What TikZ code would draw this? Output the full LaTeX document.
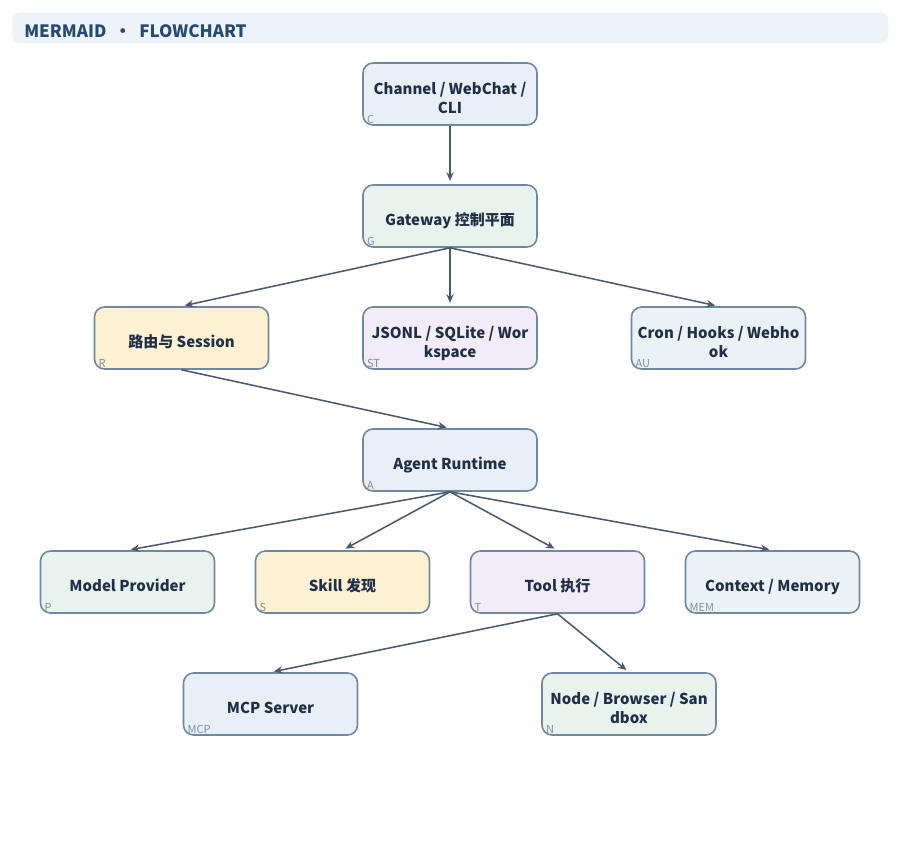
\documentclass[tikz,border=0pt]{standalone}
\usepackage{fontspec}
\setmainfont{Noto Sans CJK SC}
\usetikzlibrary{arrows.meta}
\definecolor{ink}{HTML}{1F2F46}
\definecolor{bordc}{HTML}{7088A0}
\definecolor{edgec}{HTML}{4A5A6E}
\definecolor{tagc}{HTML}{8090A0}
\definecolor{titlebg}{HTML}{EEF3F9}
\definecolor{titlec}{HTML}{234A72}
\definecolor{fblue}{HTML}{E8EFF7}
\definecolor{fgreen}{HTML}{E9F3EE}
\definecolor{fyellow}{HTML}{FDF1D4}
\definecolor{fviolet}{HTML}{F2ECF9}
\definecolor{fgray}{HTML}{EBF2F6}
\definecolor{fteal}{HTML}{E8F2EF}
\newcommand\bxtext[1]{\raisebox{-4.5pt}[\height][\depth]{\begin{tabular}{@{}c@{}}#1\end{tabular}}}
\tikzset{
  box/.style={draw=bordc, line width=1.2pt, rounded corners=7.5pt, minimum width=130.5pt, minimum height=46.5pt, align=center, text=ink, font=\fontsize{11.25pt}{14.25pt}\selectfont\bfseries, inner sep=2pt},
  tag/.style={text=tagc, font=\fontsize{8.25pt}{9pt}\selectfont, inner sep=0pt, anchor=south west},
  edge/.style={draw=edgec, line width=1.15pt, -{Stealth[length=6.5pt,width=5.5pt]}, shorten >=2.5pt}
}
\begin{document}
\begin{tikzpicture}[x=0.75pt,y=-0.75pt]
\useasboundingbox (0,0) rectangle (900,840);
\fill[white] (0,0) rectangle (900,840);
\node[draw=none, fill=titlebg, rounded corners=6pt, minimum width=657pt, minimum height=23.25pt, anchor=north west, inner sep=0pt] (title) at (12,12) {};
\node[anchor=west, text=titlec, font=\fontsize{12.75pt}{14pt}\selectfont\bfseries, inner sep=0pt] (titletext) at (24,31) {MERMAID\hspace{6pt}•\hspace{6pt}FLOWCHART};

\node[box, fill=fblue] (C) at (450,94) {\bxtext{Channel / WebChat /\\CLI}};
\node[box, fill=fgreen] (G) at (450,216) {\bxtext{Gateway 控制平面}};
\node[box, fill=fyellow] (R) at (181.5,338) {\bxtext{路由与 Session}};
\node[box, fill=fviolet] (ST) at (450,338) {\bxtext{JSONL / SQLite / Wor\\kspace}};
\node[box, fill=fgray] (AU) at (718.5,338) {\bxtext{Cron / Hooks / Webho\\ok}};
\node[box, fill=fblue] (A) at (450,460) {\bxtext{Agent Runtime}};
\node[box, fill=fteal] (P) at (127.5,582) {\bxtext{Model Provider}};
\node[box, fill=fyellow] (S) at (342.5,582) {\bxtext{Skill 发现}};
\node[box, fill=fviolet] (T) at (557.5,582) {\bxtext{Tool 执行}};
\node[box, fill=fgray] (MEM) at (772.5,582) {\bxtext{Context / Memory}};
\node[box, fill=fblue] (MCP) at (270.5,704) {\bxtext{MCP Server}};
\node[box, fill=fgreen] (N) at (629,704) {\bxtext{Node / Browser / San\\dbox}};

\foreach \n/\t in {C/C,G/G,R/R,ST/ST,AU/AU,A/A,P/P,S/S,T/T,MEM/MEM,MCP/MCP,N/N}
  \node[tag] (tag\n) at ([xshift=3.5pt,yshift=1.4pt]\n.south west) {\t};

\draw[edge] (C.south) -- (G.north);
\draw[edge] (G.south) -- (R.north);
\draw[edge] (G.south) -- (ST.north);
\draw[edge] (G.south) -- (AU.north);
\draw[edge] (R.south) -- (A.north);
\draw[edge] (A.south) -- (P.north);
\draw[edge] (A.south) -- (S.north);
\draw[edge] (A.south) -- (T.north);
\draw[edge] (A.south) -- (MEM.north);
\draw[edge] (T.south) -- (MCP.north);
\draw[edge] (T.south) -- (N.north);
\end{tikzpicture}
\end{document}
